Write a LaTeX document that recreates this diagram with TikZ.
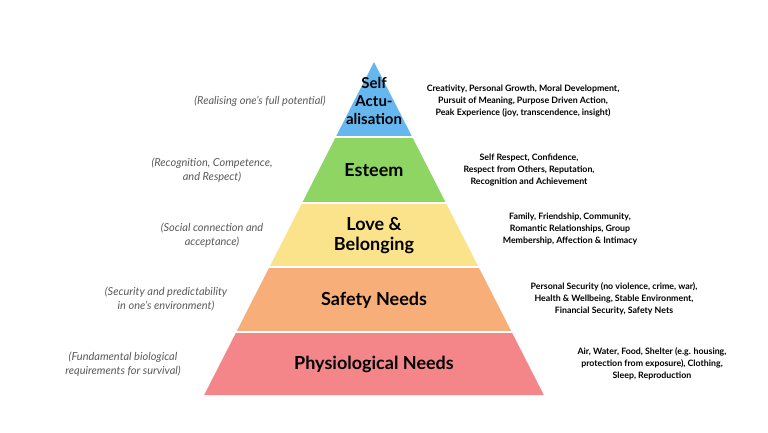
\documentclass[tikz,border=0pt]{standalone}
\usepackage{fontspec}
\setmainfont{Lato}
\definecolor{selfblue}{HTML}{66B7EE}
\definecolor{esteemgreen}{HTML}{8FD563}
\definecolor{loveyellow}{HTML}{FBE38C}
\definecolor{safetyorange}{HTML}{F8AE78}
\definecolor{physiored}{HTML}{F4868A}
\begin{document}
\begin{tikzpicture}[x=1pt,y=-1pt,
  layer/.style={font=\bfseries\fontsize{18}{20}\selectfont, align=center},
  why/.style={font=\itshape\fontsize{11}{14}\selectfont, text=black!65, align=center},
  what/.style={font=\bfseries\fontsize{8.8}{12}\selectfont, align=center}]
\useasboundingbox (0,0) rectangle (768,432);
% Pyramid layers
\fill[selfblue] (374,62) -- ({374-(137-62)*0.51},137) -- ({374+(137-62)*0.51},137) -- cycle;
\foreach \ya/\yb/\col in {137/203/esteemgreen, 203/267/loveyellow, 267/332/safetyorange, 332/395/physiored} {
  \fill[\col] ({374-(\ya-62)*0.51},\ya) -- ({374+(\ya-62)*0.51},\ya) -- ({374+(\yb-62)*0.51},\yb) -- ({374-(\yb-62)*0.51},\yb) -- cycle;
  \draw[white, line width=2.5] ({370-(\ya-62)*0.51},\ya) -- ({378+(\ya-62)*0.51},\ya);
}
% Layer names
\node[layer, font=\bfseries\fontsize{15}{18}\selectfont] (self) at (374,101) {Self\\Actu-\\alisation};
\node[layer] (esteem) at (374,170) {Esteem};
\node[layer] (love) at (374,236) {Love \&\\Belonging};
\node[layer] (safety) at (374,300) {Safety Needs};
\node[layer] (physio) at (374,364) {Physiological Needs};
% Meanings
\node[why] (selfwhy) at (260,101) {(Realising one's full potential)};
\node[why] (esteemwhy) at (212,170) {(Recognition, Competence,\\and Respect)};
\node[why] (lovewhy) at (212,235) {(Social connection and\\acceptance)};
\node[why] (safetywhy) at (166,299) {(Security and predictability\\in one's environment)};
\node[why] (physiowhy) at (123,364) {(Fundamental biological\\requirements for survival)};
% Examples
\node[what] (selfwhat) at (523,101) {Creativity, Personal Growth, Moral Development,\\Pursuit of Meaning, Purpose Driven Action,\\Peak Experience (joy, transcendence, insight)};
\node[what] (esteemwhat) at (529,170) {Self Respect, Confidence,\\Respect from Others, Reputation,\\Recognition and Achievement};
\node[what] (lovewhat) at (570,229) {Family, Friendship, Community,\\Romantic Relationships, Group\\Membership, Affection \& Intimacy};
\node[what] (safetywhat) at (614,299) {Personal Security (no violence, crime, war),\\Health \& Wellbeing, Stable Environment,\\Financial Security, Safety Nets};
\node[what] (physiowhat) at (652,364) {Air, Water, Food, Shelter (e.g. housing,\\protection from exposure), Clothing,\\Sleep, Reproduction};
\end{tikzpicture}
\end{document}
